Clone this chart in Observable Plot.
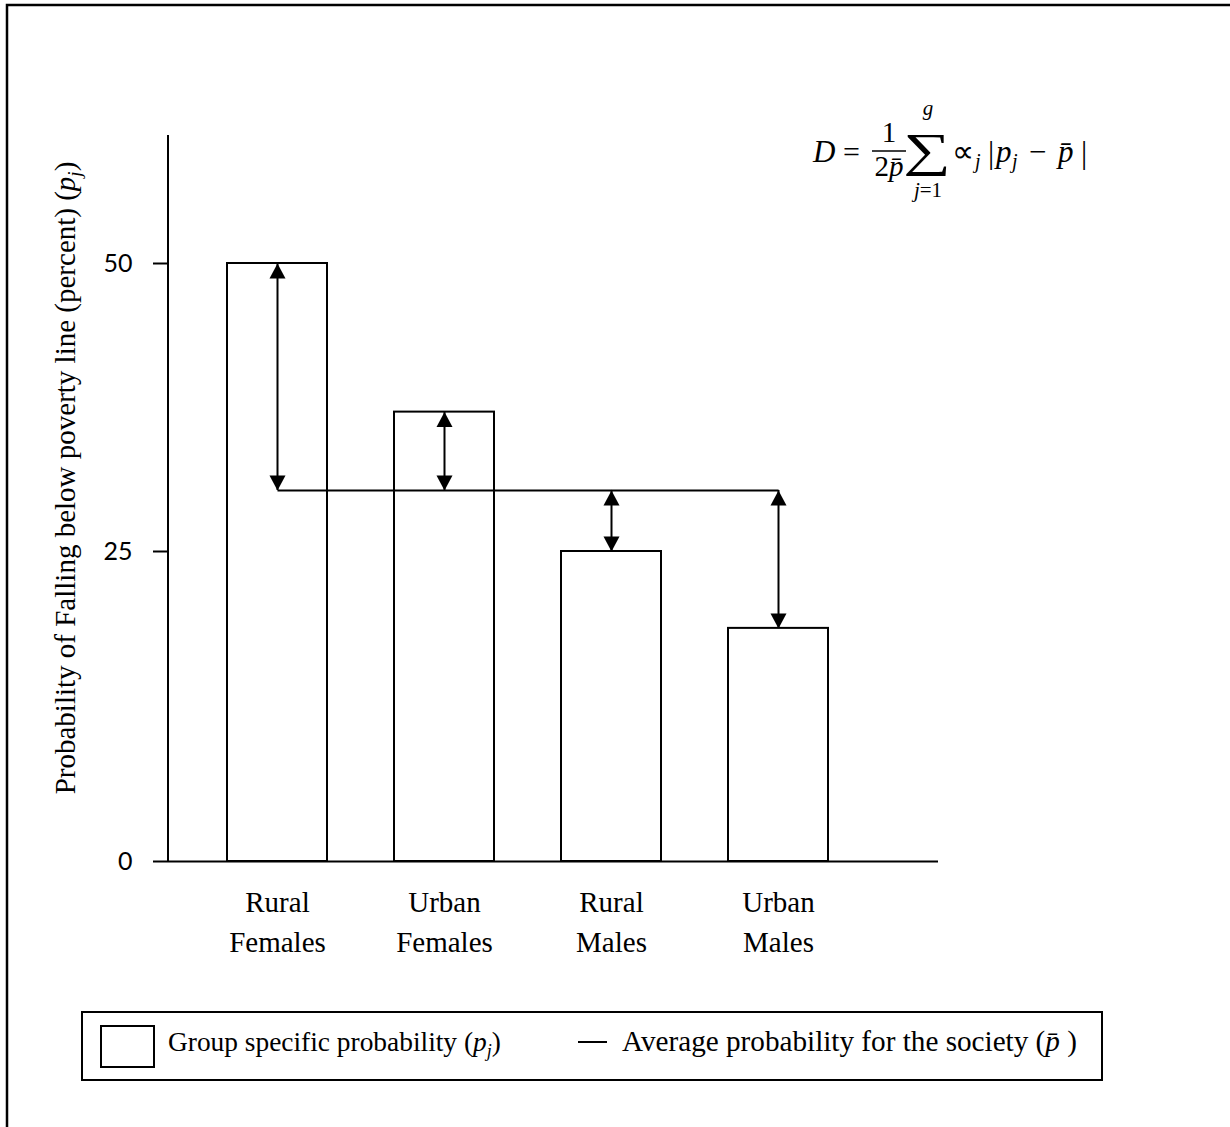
<!DOCTYPE html>
<html><head><meta charset="utf-8">
<script src="https://cdn.jsdelivr.net/npm/d3@7"></script>
<script src="https://cdn.jsdelivr.net/npm/@observablehq/plot@0.6"></script>
<style>body{margin:0;background:#fff;color:#000} svg{display:block}</style>
</head><body><div id="chart"></div>
<script>
// ---- data ----
const groups = ["Rural Females", "Urban Females", "Rural Males", "Urban Males"];
const groupLabelLines = [["Rural", "Females"], ["Urban", "Females"], ["Rural", "Males"], ["Urban", "Males"]];
const probabilities = [50, 37.1, 25, 18.8];   // p_j, percent
const averageProbability = 30.3;              // p-bar
const yTicks = [0, 25, 50];
const yTickLabels = ["0", "25", "50"];

// ---- tables built from the arrays ----
const table = groups.map((g, i) => ({group: g, p: probabilities[i]}));
const upTips = table.map(d => ({group: d.group, y: Math.max(d.p, averageProbability)}));
const downTips = table.map(d => ({group: d.group, y: Math.min(d.p, averageProbability)}));
const avgLine = [{x1: groups[0], x2: groups[groups.length - 1], y: averageProbability}];

// filled triangular arrowheads, tip at the data point
const triUp = {draw(ctx) { ctx.moveTo(0, 0); ctx.lineTo(8, 15); ctx.lineTo(-8, 15); ctx.closePath(); }};
const triDown = {draw(ctx) { ctx.moveTo(0, 0); ctx.lineTo(8, -15); ctx.lineTo(-8, -15); ctx.closePath(); }};

const W = 1230, H = 1127;
const mL = 168, mR = 292, mT = 135, mB = 266;

const chart = Plot.plot({
  width: W, height: H,
  marginLeft: mL, marginRight: mR, marginTop: mT, marginBottom: mB,
  style: {background: "white", color: "black", fontFamily: "Liberation Serif", overflow: "visible"},
  x: {type: "band", domain: groups, range: [226, 830], paddingInner: 0.4, paddingOuter: 0, align: 0.5},
  y: {type: "linear", domain: [0, 25, 50], range: [861, 551, 263]},
  marks: [
    Plot.barY(table, {x: "group", y: "p", fill: "white", stroke: "black", strokeWidth: 2}),
    Plot.ruleY([0], {stroke: "black", strokeWidth: 2}),
    Plot.link(avgLine, {x1: "x1", x2: "x2", y1: "y", y2: "y", stroke: "black", strokeWidth: 2}),
    Plot.ruleX(table, {x: "group", y1: () => averageProbability, y2: "p", stroke: "black", strokeWidth: 2}),
    Plot.dot(upTips, {x: "group", y: "y", symbol: triUp, fill: "black", stroke: "none", r: 5}),
    Plot.dot(downTips, {x: "group", y: "y", symbol: triDown, fill: "black", stroke: "none", r: 5}),
    Plot.axisY({ticks: yTicks, tickSize: 15, tickPadding: 21, fontSize: 25, fontFamily: "Lato",
      strokeWidth: 2, label: null, tickFormat: d => yTickLabels[yTicks.indexOf(d)]}),
    Plot.axisX({tickSize: 0, tickPadding: 22, fontSize: 29, fontFamily: "Liberation Serif", lineHeight: 1.38,
      label: null, tickFormat: d => groupLabelLines[groups.indexOf(d)].join("\n")})
  ]
});
document.getElementById("chart").appendChild(chart);

const svg = d3.select(chart);
const F = "Liberation Serif";
// y-axis line
svg.append("line").attr("x1", mL).attr("x2", mL).attr("y1", mT).attr("y2", H - mB)
  .attr("stroke", "black").attr("stroke-width", 2);
// page border (top and left)
svg.append("path").attr("d", `M7,${H} V5 H${W}`).attr("fill", "none").attr("stroke", "black").attr("stroke-width", 2.5);

function txt(x, y, size, anchor = "start") {
  return svg.append("text").attr("x", x).attr("y", y).attr("font-family", F).attr("font-size", size)
    .attr("text-anchor", anchor).attr("fill", "black");
}
function span(sel, s, opts = {}) {
  const ts = sel.append("tspan").text(s);
  if (opts.italic) ts.attr("font-style", "italic");
  if (opts.size) ts.attr("font-size", opts.size);
  if (opts.dy) ts.attr("dy", opts.dy);
  return ts;
}

// y-axis title
const yl = svg.append("text").attr("transform", "translate(75,478) rotate(-90)")
  .attr("text-anchor", "middle").attr("font-family", F).attr("font-size", 29).attr("fill", "black");
span(yl, "Probability of Falling below poverty line (percent) (");
span(yl, "p", {italic: true});
span(yl, "j", {italic: true, size: 19, dy: 6});
span(yl, ")", {dy: -6});

// formula
span(txt(813, 162, 31), "D", {italic: true});
span(txt(843, 162, 30), "=");
span(txt(889, 142, 29, "middle"), "1");
svg.append("line").attr("x1", 872).attr("x2", 906).attr("y1", 151).attr("y2", 151).attr("stroke", "black").attr("stroke-width", 1.5);
const den = txt(889, 176, 29, "middle");
span(den, "2"); span(den, "p\u0304", {italic: true});
svg.append("text").attr("transform", "translate(927,166) scale(1.45,1.02)").attr("text-anchor", "middle")
  .attr("font-family", F).attr("font-size", 46).attr("fill", "black").text("\u2211");
span(txt(928, 115, 21, "middle"), "g", {italic: true});
const lim = txt(928, 197, 21, "middle");
span(lim, "j", {italic: true}); span(lim, "=1");
span(txt(952, 162, 31), "\u221D");
span(txt(975, 168, 20), "j", {italic: true});
span(txt(988, 163, 31), "|");
span(txt(996, 162, 31), "p", {italic: true});
span(txt(1012, 168, 20), "j", {italic: true});
span(txt(1029, 162, 31), "\u2212");
span(txt(1058, 162, 31), "p\u0304", {italic: true});
span(txt(1081, 163, 31), "|");

// legend
svg.append("rect").attr("x", 82).attr("y", 1012).attr("width", 1020).attr("height", 68)
  .attr("fill", "white").attr("stroke", "black").attr("stroke-width", 2);
svg.append("rect").attr("x", 101).attr("y", 1026).attr("width", 53).attr("height", 41)
  .attr("fill", "white").attr("stroke", "black").attr("stroke-width", 2);
const lg1 = txt(168, 1051, 27.4);
span(lg1, "Group specific probability (");
span(lg1, "p", {italic: true});
span(lg1, "j", {italic: true, size: 18, dy: 6});
span(lg1, ")", {dy: -6});
svg.append("line").attr("x1", 578).attr("x2", 607).attr("y1", 1042).attr("y2", 1042).attr("stroke", "black").attr("stroke-width", 2);
const lg2 = txt(622, 1051, 29.2);
span(lg2, "Average probability for the society (");
span(lg2, "p\u0304", {italic: true});
span(lg2, " )");
</script>
</body></html>
